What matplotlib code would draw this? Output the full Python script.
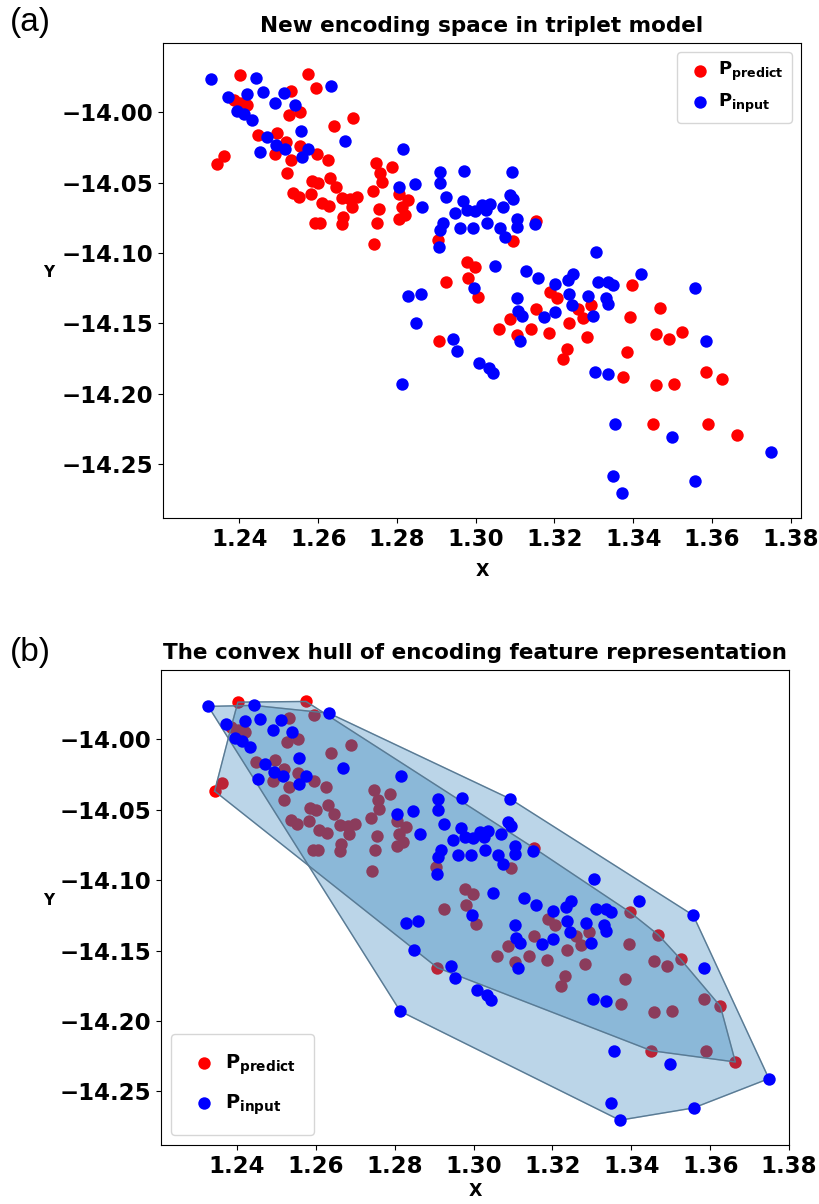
import matplotlib
matplotlib.use('Agg')
import matplotlib.pyplot as plt
import numpy as np

# P_predict points (red)
pred_x = [1.2402, 1.2575, 1.2594, 1.2531, 1.2385, 1.2420, 1.2402, 1.2554, 1.2527, 1.2688,
          1.2639, 1.2447, 1.2495, 1.2519, 1.2554, 1.2596, 1.2626, 1.2491, 1.2531, 1.2361,
          1.2343, 1.2520, 1.2584, 1.2599, 1.2630, 1.2645, 1.2536, 1.2552, 1.2582, 1.2609,
          1.2628, 1.2660, 1.2681, 1.2699, 1.2685, 1.2664, 1.2660, 1.2592, 1.2747, 1.2787,
          1.2757, 1.2761, 1.2739, 1.2806, 1.2829, 1.2812, 1.2755, 1.2821, 1.2806, 1.2750,
          1.2742, 1.2905, 1.3152, 1.3095, 1.2977, 1.2998, 1.2981, 1.2925, 1.2605, 1.3007,
          1.2908, 1.3189, 1.3206, 1.3396, 1.3153, 1.3260, 1.3292, 1.3273, 1.3087, 1.3468,
          1.3393, 1.3238, 1.3060, 1.3140, 1.3186, 1.3106, 1.3283, 1.3458, 1.3491, 1.3525,
          1.3231, 1.3222, 1.3383, 1.3373, 1.3585, 1.3626, 1.3457, 1.3503, 1.3451, 1.3590,
          1.3664]
pred_y = [-13.9738, -13.9733, -13.9828, -13.9851, -13.9915, -13.9950, -13.9936, -13.9998, -14.0021, -14.0040,
          -14.0099, -14.0163, -14.0151, -14.0211, -14.0241, -14.0300, -14.0340, -14.0300, -14.0340, -14.0312,
          -14.0369, -14.0435, -14.0487, -14.0506, -14.0470, -14.0534, -14.0572, -14.0601, -14.0582, -14.0643,
          -14.0665, -14.0612, -14.0619, -14.0601, -14.0672, -14.0743, -14.0796, -14.0789, -14.0364, -14.0392,
          -14.0435, -14.0494, -14.0560, -14.0582, -14.0624, -14.0672, -14.0690, -14.0730, -14.0761, -14.0789,
          -14.0936, -14.0908, -14.0771, -14.0913, -14.1062, -14.1101, -14.1179, -14.1208, -14.0787, -14.1310,
          -14.1622, -14.1274, -14.1321, -14.1227, -14.1399, -14.1399, -14.1369, -14.1463, -14.1470, -14.1388,
          -14.1452, -14.1494, -14.1539, -14.1541, -14.1570, -14.1582, -14.1594, -14.1574, -14.1610, -14.1562,
          -14.1683, -14.1754, -14.1704, -14.1877, -14.1842, -14.1896, -14.1936, -14.1929, -14.2211, -14.2211,
          -14.2291]

# P_input points (blue)
inp_x = [1.2327, 1.2442, 1.2372, 1.2419, 1.2459, 1.2512, 1.2490, 1.2540, 1.2633, 1.2395,
         1.2412, 1.2432, 1.2556, 1.2669, 1.2470, 1.2493, 1.2516, 1.2453, 1.2574, 1.2558,
         1.2815, 1.2909, 1.2971, 1.3092, 1.2909, 1.2846, 1.2805, 1.2925, 1.3087, 1.3095,
         1.2863, 1.2967, 1.3017, 1.3036, 1.3069, 1.2947, 1.2977, 1.2998, 1.3026, 1.3104,
         1.2918, 1.2960, 1.2909, 1.2994, 1.3028, 1.3062, 1.3104, 1.3151, 1.3074, 1.2908,
         1.3050, 1.3127, 1.3157, 1.3201, 1.3235, 1.3248, 1.2996, 1.3305, 1.3311, 1.3337,
         1.3348, 1.3419, 1.3557, 1.3104, 1.3238, 1.3286, 1.3331, 1.3335, 1.3244, 1.3108,
         1.3117, 1.3173, 1.3201, 1.3299, 1.3112, 1.3585, 1.3008, 1.3034, 1.3043, 1.3303,
         1.3335, 1.3355, 1.3499, 1.3749, 1.3348, 1.3371, 1.3558, 1.2829, 1.2860, 1.2848,
         1.2943, 1.2952, 1.2814]
inp_y = [-13.9768, -13.9761, -13.9891, -13.9872, -13.9860, -13.9863, -13.9938, -13.9950, -13.9816, -13.9991,
         -14.0014, -14.0057, -14.0135, -14.0204, -14.0179, -14.0234, -14.0265, -14.0282, -14.0265, -14.0321,
         -14.0262, -14.0423, -14.0416, -14.0423, -14.0506, -14.0511, -14.0530, -14.0601, -14.0589, -14.0617,
         -14.0676, -14.0629, -14.0660, -14.0652, -14.0672, -14.0714, -14.0695, -14.0700, -14.0695, -14.0757,
         -14.0785, -14.0825, -14.0837, -14.0825, -14.0785, -14.0825, -14.0818, -14.0794, -14.0889, -14.0955,
         -14.1090, -14.1126, -14.1175, -14.1220, -14.1191, -14.1149, -14.1248, -14.0991, -14.1204, -14.1204,
         -14.1227, -14.1149, -14.1250, -14.1317, -14.1291, -14.1305, -14.1317, -14.1362, -14.1369, -14.1409,
         -14.1447, -14.1452, -14.1416, -14.1445, -14.1622, -14.1624, -14.1778, -14.1818, -14.1849, -14.1842,
         -14.1858, -14.2215, -14.2303, -14.2409, -14.2582, -14.2704, -14.2617, -14.1305, -14.1293, -14.1499,
         -14.1612, -14.1695, -14.1931]

x_ticks = [1.24, 1.26, 1.28, 1.30, 1.32, 1.34, 1.36, 1.38]
y_ticks = [-14.00, -14.05, -14.10, -14.15, -14.20, -14.25]
label_pred = r'$\mathbf{P_{predict}}$'
label_inp = r'$\mathbf{P_{input}}$'


def convex_hull(xs, ys):
    # monotone chain
    pts = sorted(set(zip(xs, ys)))

    def cross(o, a, b):
        return (a[0] - o[0]) * (b[1] - o[1]) - (a[1] - o[1]) * (b[0] - o[0])

    lower = []
    for p in pts:
        while len(lower) >= 2 and cross(lower[-2], lower[-1], p) <= 0:
            lower.pop()
        lower.append(p)
    upper = []
    for p in reversed(pts):
        while len(upper) >= 2 and cross(upper[-2], upper[-1], p) <= 0:
            upper.pop()
        upper.append(p)
    hull = lower[:-1] + upper[:-1]
    return np.array(hull)


def style_axes(ax, xlim, title, xpad):
    ax.set_xlim(*xlim)
    ax.set_ylim(-14.288, -13.951)
    ax.set_xticks(x_ticks)
    ax.set_yticks(y_ticks)
    ax.set_xticklabels(['%.2f' % v for v in x_ticks])
    ax.set_yticklabels(['\u2212%.2f' % abs(v) for v in y_ticks])
    ax.tick_params(labelsize=16.5)
    for lab in ax.get_xticklabels() + ax.get_yticklabels():
        lab.set_fontweight('bold')
    ax.set_title(title, fontsize=15.5, fontweight='bold', pad=8)
    ax.set_xlabel('X', fontsize=12.5, fontweight='bold', labelpad=xpad)
    ax.set_ylabel('Y', fontsize=11, fontweight='bold', rotation=0)
    ax.yaxis.set_label_coords(-0.18, 0.5)


fig = plt.figure(figsize=(8.2, 12.04), dpi=100)

# (a) scatter only
ax1 = fig.add_axes([0.1988, 0.5698, 0.778, 0.3945])
ax1.scatter(pred_x, pred_y, s=80, c='red', linewidths=0, label=label_pred)
ax1.scatter(inp_x, inp_y, s=80, c='blue', linewidths=0, label=label_inp)
style_axes(ax1, (1.2206, 1.3826), 'New encoding space in triplet model', 8)
ax1.legend(loc='upper right', fontsize=13, handletextpad=0.2, handlelength=1.6,
           borderpad=0.45, labelspacing=0.45)

# (b) convex hulls
ax2 = fig.add_axes([0.1968, 0.049, 0.7654, 0.3945])
ax2.scatter(pred_x, pred_y, s=80, c='red', linewidths=0, label=label_pred, zorder=1)
hull_p = convex_hull(pred_x, pred_y)
hull_i = convex_hull(inp_x, inp_y)
ax2.fill(hull_p[:, 0], hull_p[:, 1], color='#1f77b4', alpha=0.3, zorder=2)
ax2.fill(hull_i[:, 0], hull_i[:, 1], color='#1f77b4', alpha=0.3, zorder=3)
ax2.plot(np.append(hull_p[:, 0], hull_p[0, 0]), np.append(hull_p[:, 1], hull_p[0, 1]),
         color='#5b7a92', lw=1, zorder=4)
ax2.plot(np.append(hull_i[:, 0], hull_i[0, 0]), np.append(hull_i[:, 1], hull_i[0, 1]),
         color='#5b7a92', lw=1, zorder=4)
ax2.scatter(inp_x, inp_y, s=80, c='blue', linewidths=0, label=label_inp, zorder=5)
style_axes(ax2, (1.2208, 1.380), 'The convex hull of encoding feature representation', 3)
ax2.legend(loc='lower left', fontsize=14, handletextpad=0.3, handlelength=1.5,
           borderpad=0.95, labelspacing=0.8)

fig.text(10 / 820, 1 - 22 / 1204, '(a)', fontsize=24, family='Liberation Sans', va='center')
fig.text(10 / 820, 1 - 652 / 1204, '(b)', fontsize=24, family='Liberation Sans', va='center')

fig.savefig('out.png', dpi=100)
